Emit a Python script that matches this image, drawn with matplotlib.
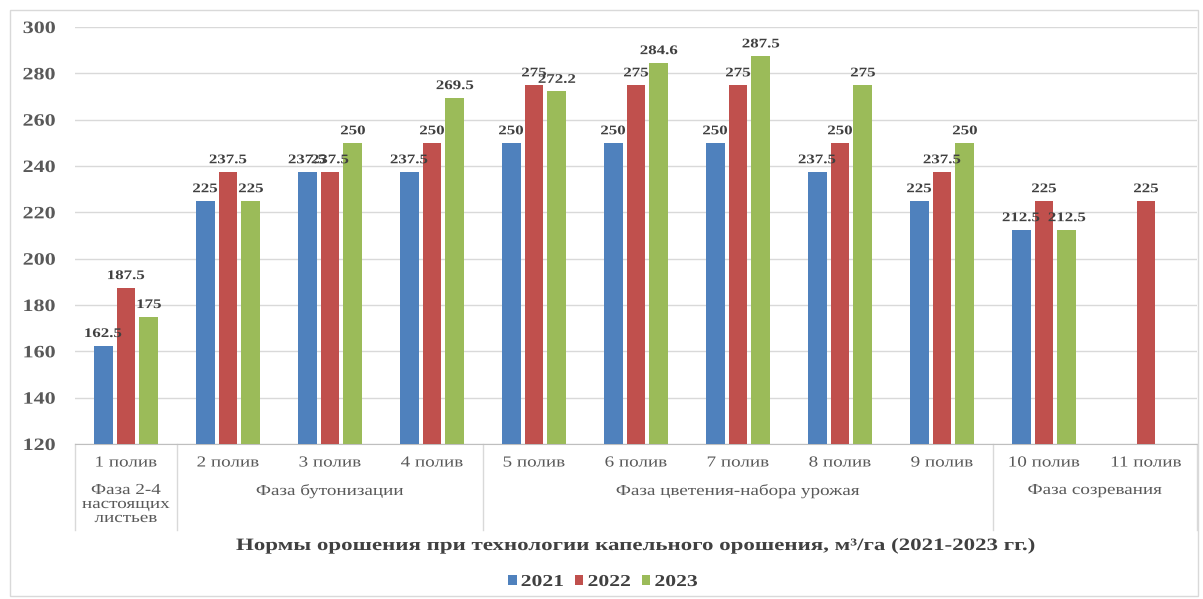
import numpy as np
import matplotlib
matplotlib.use('Agg')
import matplotlib.pyplot as plt
import matplotlib.transforms as mtransforms
from matplotlib.patches import Rectangle
from matplotlib.patheffects import AbstractPathEffect

# data
irrigations = ['1 полив', '2 полив', '3 полив', '4 полив', '5 полив', '6 полив',
               '7 полив', '8 полив', '9 полив', '10 полив', '11 полив']
phases = ['Фаза 2-4\nнастоящих\nлистьев', 'Фаза бутонизации',
          'Фаза цветения-набора урожая', 'Фаза созревания']
phase_sizes = [1, 3, 5, 2]
years = ['2021', '2022', '2023']
v2021 = [162.5, 225, 237.5, 237.5, 250, 250, 250, 237.5, 225, 212.5, np.nan]
v2022 = [187.5, 237.5, 237.5, 250, 275, 275, 275, 250, 237.5, 225, 225]
v2023 = [175, 225, 250, 269.5, 272.2, 284.6, 287.5, 275, 250, 212.5, np.nan]
colors = ['#4F81BD', '#C0504D', '#9BBB59']
title = 'Нормы орошения при технологии капельного орошения, м³/га (2021-2023 гг.)'


class Stretch(AbstractPathEffect):
    """widen text glyphs horizontally (the source picture is stretched)"""
    def __init__(self, sx, anchor='center'):
        super().__init__()
        self.sx = sx
        self.anchor = anchor

    def draw_path(self, renderer, gc, tpath, affine, rgbFace=None):
        ext = tpath.get_extents()
        if self.anchor == 'center':
            ox = (ext.x0 + ext.x1) / 2
        elif self.anchor == 'right':
            ox = ext.x1
        else:
            ox = 0
        t = mtransforms.Affine2D().translate(-ox, 0).scale(self.sx, 1).translate(ox, 0) + affine
        renderer.draw_path(gc, tpath, t, rgbFace)


plt.rcParams['font.family'] = ['Liberation Serif', 'DejaVu Serif']
txt_color = '#404040'
cat_color = '#595959'

W, H = 1203, 599
fig = plt.figure(figsize=(W / 100, H / 100), dpi=100)
fig.patches.append(Rectangle((10 / W, 3 / H), 1188 / W, 586 / H, transform=fig.transFigure,
                             fill=False, edgecolor='#D9D9D9', linewidth=1))

ax = fig.add_axes([75 / W, 1 - 444 / H, 1122 / W, 417 / H])
x = np.arange(len(irrigations))
width = 0.186
step = 0.225
for i, (vals, c, lab) in enumerate(zip([v2021, v2022, v2023], colors, years)):
    vals = np.array(vals, dtype=float)
    ax.bar(x + (i - 1) * step, vals - 120, width, bottom=120, color=c, label=lab, zorder=3)
    for xi, v in zip(x + (i - 1) * step, vals):
        if np.isnan(v):
            continue
        t = ax.annotate('%g' % v, (xi, v), xytext=(0, 4), textcoords='offset points',
                        ha='center', va='bottom', fontsize=9.5, fontweight='bold',
                        color=txt_color, zorder=4)
        t.set_path_effects([Stretch(1.28)])

ax.set_ylim(120, 300)
ax.set_xlim(-0.5, len(irrigations) - 0.5)
ax.set_yticks(np.arange(120, 301, 20))
ax.yaxis.grid(True, color='#D9D9D9', linewidth=1, zorder=0)
for s in ['top', 'right', 'left']:
    ax.spines[s].set_visible(False)
ax.spines['bottom'].set_color('#BFBFBF')
ax.tick_params(axis='y', length=0, pad=14, labelsize=12.5, labelcolor=cat_color)
for t in ax.get_yticklabels():
    t.set_fontweight('bold')
    t.set_path_effects([Stretch(1.27, 'right')])
ax.set_xticks(x)
ax.set_xticklabels(irrigations, fontsize=11, color=cat_color)
for t in ax.get_xticklabels():
    t.set_path_effects([Stretch(1.25)])
ax.tick_params(axis='x', length=0, pad=9)

# multi-level category axis
trans = mtransforms.blended_transform_factory(ax.transData, ax.transAxes)
bounds = np.concatenate([[0], np.cumsum(phase_sizes)]) - 0.5
depth = -86 / 417
for b in bounds:
    ax.plot([b, b], [0, depth], transform=trans, color='#D9D9D9', linewidth=1, clip_on=False)
for k, name in enumerate(phases):
    cx = (bounds[k] + bounds[k + 1]) / 2
    t = ax.text(cx, -40 / 417, name, transform=trans, ha='center', va='top',
                fontsize=11, color=cat_color, linespacing=1.1)
    t.set_path_effects([Stretch(1.25)])

tt = fig.text(636 / W, 1 - 546 / H, title, ha='center', va='center', fontsize=12.5,
              fontweight='bold', color=txt_color)
tt.set_path_effects([Stretch(1.32)])

leg = fig.legend(loc='center', bbox_to_anchor=(598 / W, 1 - 582 / H), ncol=3, frameon=False,
                 prop={'weight': 'bold', 'size': 12}, handlelength=0.5, handleheight=0.5,
                 handletextpad=0.25, columnspacing=1.26)
for t in leg.get_texts():
    t.set_color(txt_color)
    t.set_path_effects([Stretch(1.3, 'left')])

fig.savefig('out.png', dpi=100)
